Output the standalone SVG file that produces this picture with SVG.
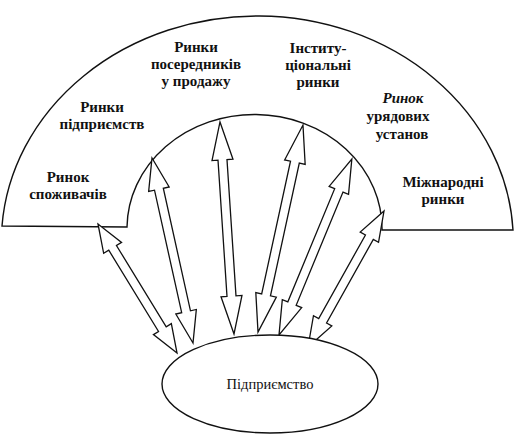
<svg xmlns="http://www.w3.org/2000/svg" width="515" height="435" viewBox="0 0 515 435">
<style>
.shape{fill:#fff;stroke:#111;stroke-width:1.4}
.arr{fill:#fff;stroke:#111;stroke-width:1.3;stroke-linejoin:miter}
.lbl{font-family:"Liberation Serif","Times New Roman","DejaVu Serif",serif;font-size:15px;font-weight:bold;fill:#111;text-anchor:middle}
.main{font-family:"Liberation Serif","Times New Roman","DejaVu Serif",serif;font-size:14.5px;fill:#111;text-anchor:middle}
</style>
<rect width="515" height="435" fill="#fff"/>
<g id="markets">
<path class="shape" d="M 2,226 A 256 226 0 0 1 513,230 L 382,230 A 127.5 114 0 0 0 127,227 Z"/>
</g>
<g id="node-consumers"><text class="lbl" x="68" y="182">Ринок</text><text class="lbl" x="68" y="199">споживачів</text></g>
<g id="node-enterprises"><text class="lbl" x="102" y="112">Ринки</text><text class="lbl" x="102" y="129">підприємств</text></g>
<g id="node-resellers"><text class="lbl" x="196" y="52">Ринки</text><text class="lbl" x="196" y="69">посередників</text><text class="lbl" x="196" y="86">у продажу</text></g>
<g id="node-institutional"><text class="lbl" x="318" y="53">Інститу-</text><text class="lbl" x="318" y="70">ціональні</text><text class="lbl" x="318" y="87">ринки</text></g>
<g id="node-government"><text class="lbl" x="403" y="103" font-style="italic">Ринок</text><text class="lbl" x="398" y="121">урядових</text><text class="lbl" x="402" y="139">установ</text></g>
<g id="node-international"><text class="lbl" x="443" y="187">Міжнародні</text><text class="lbl" x="443" y="204">ринки</text></g>
<g id="connectors">
<polygon class="arr" transform="translate(177,353) rotate(-121.48)" points="0,0 28,-10.5 28,-4.5 123.3,-4.5 123.3,-10.5 151.3,0 123.3,10.5 123.3,4.5 28,4.5 28,10.5"/>
<polygon class="arr" transform="translate(193,343) rotate(-102.5)" points="0,0 32,-10.5 32,-4.5 157.5,-4.5 157.5,-10.5 189.5,0 157.5,10.5 157.5,4.5 32,4.5 32,10.5"/>
<polygon class="arr" transform="translate(234,334) rotate(-93.78)" points="0,0 38,-10.5 38,-4.5 174.5,-4.5 174.5,-10.5 212.5,0 174.5,10.5 174.5,4.5 38,4.5 38,10.5"/>
<polygon class="arr" transform="translate(258,332) rotate(-77.74)" points="0,0 38,-10.5 38,-4.5 173.8,-4.5 173.8,-10.5 211.8,0 173.8,10.5 173.8,4.5 38,4.5 38,10.5"/>
<polygon class="arr" transform="translate(279,335) rotate(-67.52)" points="0,0 34,-10.5 34,-4.5 156.5,-4.5 156.5,-10.5 190.5,0 156.5,10.5 156.5,4.5 34,4.5 34,10.5"/>
<polygon class="arr" transform="translate(308,347) rotate(-60.8)" points="0,0 30,-10.5 30,-4.5 125.8,-4.5 125.8,-10.5 155.8,0 125.8,10.5 125.8,4.5 30,4.5 30,10.5"/>
</g>
<g id="node-enterprise">
<ellipse class="shape" cx="270" cy="384" rx="108" ry="49" stroke-width="1.6"/>
<text class="main" x="270" y="389">Підприємство</text>
</g>
</svg>
